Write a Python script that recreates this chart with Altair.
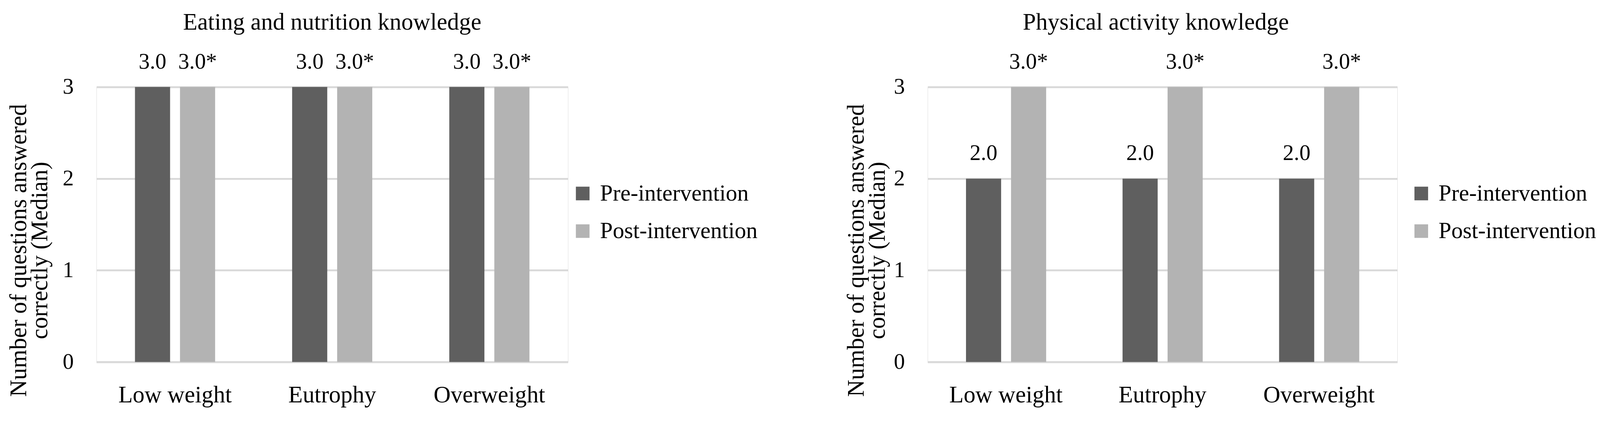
import altair as alt
import pandas as pd

FONT = "Liberation Serif"

categories = ["Low weight", "Eutrophy", "Overweight"]
series = ["Pre-intervention", "Post-intervention"]

nutrition_pre = [3.0, 3.0, 3.0]
nutrition_post = [3.0, 3.0, 3.0]
nutrition_pre_labels = ["3.0", "3.0", "3.0"]
nutrition_post_labels = ["3.0*", "3.0*", "3.0*"]

activity_pre = [2.0, 2.0, 2.0]
activity_post = [3.0, 3.0, 3.0]
activity_pre_labels = ["2.0", "2.0", "2.0"]
activity_post_labels = ["3.0*", "3.0*", "3.0*"]

titles = ["Eating and nutrition knowledge", "Physical activity knowledge"]
y_title = ["Number of questions answered", "correctly (Median)"]
colors = ["#5f5f5f", "#b3b3b3"]


def make_df(pre, post, pre_lab, post_lab):
    rows = []
    for i, c in enumerate(categories):
        rows.append({"group": c, "series": series[0], "value": pre[i], "label": pre_lab[i]})
        rows.append({"group": c, "series": series[1], "value": post[i], "label": post_lab[i]})
    return pd.DataFrame(rows)


def panel(df, title, width, legend_x, title_x, title_dx):
    base = alt.Chart(df).encode(
        x=alt.X(
            "group:N",
            sort=categories,
            scale=alt.Scale(paddingInner=0.49, paddingOuter=0.245),
            axis=alt.Axis(
                title=None,
                labelAngle=0,
                labelFont=FONT,
                labelFontSize=64,
                labelColor="#000000",
                labelBaseline="alphabetic",
                labelPadding=109,
                labelLimit=1000,
                ticks=False,
                grid=False,
                domain=True,
                domainColor="#d9d9d9",
                domainWidth=5,
            ),
        ),
        xOffset=alt.XOffset(
            "series:N", sort=series, scale=alt.Scale(paddingInner=0.22, paddingOuter=0)
        ),
    )
    bars = base.mark_bar().encode(
        y=alt.Y(
            "value:Q",
            scale=alt.Scale(domain=[0, 3], nice=False, zero=True),
            axis=alt.Axis(
                values=[0, 1, 2, 3],
                format="d",
                title=y_title,
                titleFont=FONT,
                titleFontSize=64,
                titleFontWeight="normal",
                titleColor="#000000",
                titleAngle=270,
                titleAlign="center",
                titleBaseline="alphabetic",
                titleLineHeight=57,
                titleX=title_x,
                titleY=443,
                labelFont=FONT,
                labelFontSize=60,
                labelColor="#000000",
                labelPadding=62,
                ticks=False,
                domain=False,
                grid=True,
                gridColor="#d9d9d9",
                gridWidth=5,
            ),
        ),
        color=alt.Color(
            "series:N",
            sort=series,
            scale=alt.Scale(domain=series, range=colors),
            legend=alt.Legend(
                title=None,
                orient="none",
                legendX=legend_x,
                legendY=258,
                padding=0,
                symbolType="square",
                symbolSize=1369,
                symbolStrokeWidth=0,
                labelFont=FONT,
                labelFontSize=62,
                labelColor="#000000",
                labelOffset=16,
                labelLimit=1000,
                rowPadding=40,
            ),
        ),
    )
    text = base.mark_text(
        baseline="alphabetic", dy=-50, font=FONT, fontSize=60, color="#000000"
    ).encode(y=alt.Y("value:Q"), text="label:N")
    return alt.layer(bars, text).properties(
        width=width,
        height=746,
        title=alt.Title(
            title,
            font=FONT,
            fontSize=64,
            fontWeight="normal",
            color="#000000",
            anchor="middle",
            frame="group",
            baseline="alphabetic",
            offset=-6,
            dx=title_dx,
        ),
    )


left = panel(
    make_df(nutrition_pre, nutrition_post, nutrition_pre_labels, nutrition_post_labels),
    titles[0], 1278, 1287, -191, 0,
)
right = panel(
    make_df(activity_pre, activity_post, activity_pre_labels, activity_post_labels),
    titles[1], 1273, 1307, -174, -18,
)

chart = (
    alt.hconcat(left, right, spacing=233)
    .resolve_scale(color="independent")
    .properties(padding={"left": 10, "top": -12, "right": 0, "bottom": 5})
    .configure_view(stroke="#e0e0e0", strokeWidth=4)
    .configure(background="#ffffff")
)

chart.save("out.html", embed_options={"renderer": "svg", "actions": False})
